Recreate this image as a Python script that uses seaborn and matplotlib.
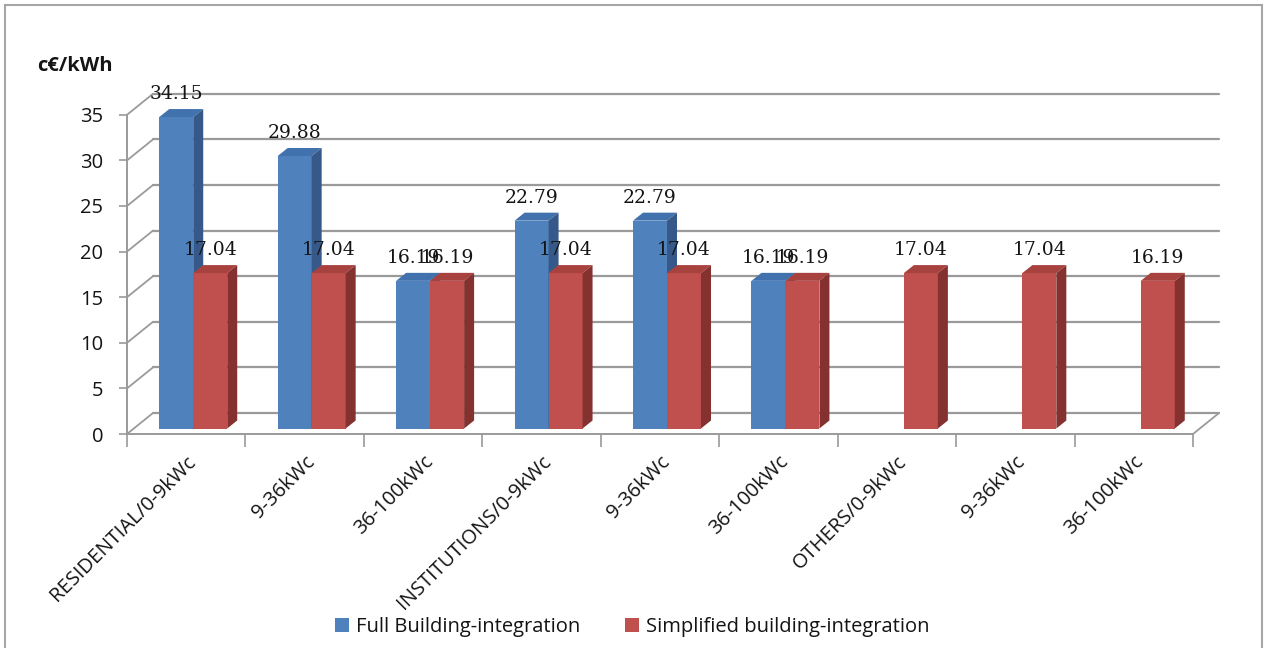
import numpy as np
import pandas as pd
import matplotlib
matplotlib.use("Agg")
import matplotlib.pyplot as plt
import matplotlib.transforms as mtransforms
from matplotlib.patches import Polygon, Rectangle, Patch
import seaborn as sns

# ---- data -------------------------------------------------------------
sectors = ["RESIDENTIAL", "INSTITUTIONS", "OTHERS"]
power_ranges = ["0-9kWc", "9-36kWc", "36-100kWc"]
tick_labels = ["RESIDENTIAL/0-9kWc", "9-36kWc", "36-100kWc",
               "INSTITUTIONS/0-9kWc", "9-36kWc", "36-100kWc",
               "OTHERS/0-9kWc", "9-36kWc", "36-100kWc"]
series_names = ["Full Building-integration", "Simplified building-integration"]
full_bi = [34.15, 29.88, 16.19, 22.79, 22.79, 16.19, np.nan, np.nan, np.nan]
simplified_bi = [17.04, 17.04, 16.19, 17.04, 17.04, 16.19, 17.04, 17.04, 16.19]
y_ticks = [0, 5, 10, 15, 20, 25, 30, 35]
unit_label = "c€/kWh"

# ---- styling ----------------------------------------------------------
front_cols = ["#4F81BD", "#C0504D"]
top_cols = ["#4272AD", "#A8423F"]
side_cols = ["#36598A", "#84312F"]
grid_col = "#9A9A9A"
text_col = "#141414"
sans = ["Open Sans", "DejaVu Sans"]
serif = ["DejaVu Serif"]

sns.set_theme(style="white")
plt.rcParams["font.family"] = sans

slots = [f"{s}/{r}" for s in sectors for r in power_ranges]
df = pd.DataFrame({
    "slot": slots * 2,
    "series": [series_names[0]] * len(slots) + [series_names[1]] * len(slots),
    "value": full_bi + simplified_bi,
})

W, H, DPI = 1264, 648, 100
fig = plt.figure(figsize=(W / DPI, H / DPI), dpi=DPI)
fig.patch.set_facecolor("white")

# front plane of the 3-D box, in pixels
x0_px, x1_px = 127, 1193
y0_px, px_per_unit = 434, 9.12
ymax = 35
ax = fig.add_axes([x0_px / W, (H - y0_px) / H,
                   (x1_px - x0_px) / W, ymax * px_per_unit / H])
ax.set_facecolor("none")

sns.barplot(data=df, x="slot", y="value", hue="series", order=slots,
            hue_order=series_names, palette=front_cols, saturation=1,
            width=0.574, errorbar=None, legend=False, ax=ax)

ax.set_xlim(-0.5, len(slots) - 0.5)
ax.set_ylim(0, ymax)

# pixel -> data conversion for the oblique depth
px_x = (x1_px - x0_px) / len(slots)     # pixels per category
def depth(dx_px, dy_px):
    return dx_px / px_x, dy_px / px_per_unit

wall_dx, wall_dy = depth(26, 21)       # back wall
bar_ox, bar_oy = depth(7, 5.5)         # bar front face position
bar_dx, bar_dy = depth(10, 8)          # bar thickness

# back wall gridlines, left wall diagonals and floor edge
xl, xr = ax.get_xlim()
for v in y_ticks:
    ax.plot([xl + wall_dx, xr + wall_dx], [v + wall_dy, v + wall_dy],
            color=grid_col, lw=1.6, clip_on=False, zorder=1)
    ax.plot([xl, xl + wall_dx], [v, v + wall_dy],
            color=grid_col, lw=1.3, clip_on=False, zorder=1)
ax.plot([xr, xr + wall_dx], [0, wall_dy], color=grid_col, lw=1.3,
        clip_on=False, zorder=1)

# 3-D bars: shift the seaborn faces into depth and add top / side faces
bars = [p for p in ax.patches if p.get_height() > 0 and np.isfinite(p.get_height())]
bars.sort(key=lambda p: p.get_x())
shift = mtransforms.Affine2D().translate(bar_ox, bar_oy) + ax.transData
for i, p in enumerate(bars):
    face = p.get_facecolor()
    k = 0 if np.allclose(face[:3], matplotlib.colors.to_rgb(front_cols[0]), atol=0.02) else 1
    z = 3 + i * 0.1
    x0 = p.get_x()
    x1 = x0 + p.get_width()
    h = p.get_height()
    p.set_transform(shift)
    p.set_edgecolor("none")
    p.set_linewidth(0)
    p.set_clip_on(False)
    p.set_zorder(z)
    top = Polygon([(x0, h), (x1, h), (x1 + bar_dx, h + bar_dy), (x0 + bar_dx, h + bar_dy)],
                  closed=True, facecolor=top_cols[k], edgecolor="none",
                  transform=shift, clip_on=False, zorder=z + 0.01)
    side = Polygon([(x1, 0), (x1 + bar_dx, bar_dy), (x1 + bar_dx, h + bar_dy), (x1, h)],
                   closed=True, facecolor=side_cols[k], edgecolor="none",
                   transform=shift, clip_on=False, zorder=z + 0.02)
    ax.add_patch(top)
    ax.add_patch(side)
    ax.annotate(f"{h:.2f}", xy=(x0 + p.get_width() / 2, h), xycoords=shift,
                xytext=(0, 23), textcoords="offset pixels",
                ha="center", va="center", fontsize=13.5, family=serif,
                color=text_col, zorder=20, annotation_clip=False)

# axes: front vertical line and floor edge
for s in ["top", "right"]:
    ax.spines[s].set_visible(False)
for s in ["left", "bottom"]:
    ax.spines[s].set_color(grid_col)
    ax.spines[s].set_linewidth(1.4)
    ax.spines[s].set_zorder(2)

ax.set_yticks(y_ticks)
ax.set_yticklabels([str(v) for v in y_ticks])
ax.tick_params(axis="y", length=6, width=1.2, color=grid_col, pad=11,
               labelsize=14.5, labelcolor=text_col, left=True)
ax.set_xticks(range(len(slots)))
ax.set_xticklabels(tick_labels, rotation=45, ha="right", rotation_mode="anchor")
ax.tick_params(axis="x", length=0, pad=13, labelsize=14.5, labelcolor=text_col)
ax.set_xticks(np.arange(-0.5, len(slots)), minor=True)
ax.tick_params(axis="x", which="minor", length=9, width=1.2, color=grid_col,
               bottom=True)
ax.set_xlabel("")
ax.set_ylabel("")

fig.text(37 / W, 1 - 66 / H, unit_label, fontsize=14.5, fontweight="bold",
         ha="left", va="center", color=text_col)

handles = [Patch(facecolor=c, edgecolor="none") for c in front_cols]
fig.legend(handles, series_names, loc="center", bbox_to_anchor=(0.5, 1 - 627 / H),
           ncol=2, frameon=False, fontsize=14.5, handlelength=0.7,
           handleheight=0.7, handletextpad=0.35, columnspacing=2.2,
           labelcolor=text_col)

# chart frame
fig.patches.append(Rectangle((5 / W, -0.01), 1257 / W, (H - 5) / H + 0.01,
                             transform=fig.transFigure, fill=False,
                             edgecolor="#A6A6A6", lw=1.5))

fig.savefig("out.png", dpi=DPI)
